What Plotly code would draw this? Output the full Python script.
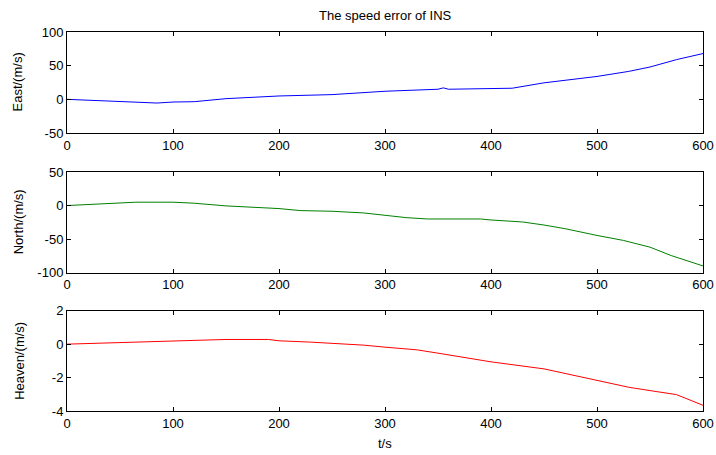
import plotly.graph_objects as go
from plotly.subplots import make_subplots

# Time samples (s)
t_east = [0, 25, 50, 70, 85, 100, 120, 150, 175, 200, 250, 300, 350, 355, 360, 400, 420, 450, 500, 530, 550, 575, 600]
east = [0, -1.5, -3.5, -4, -5.5, -4, -3.5, 1, 3, 5, 7, 12, 15, 17, 15, 16, 16.5, 24.5, 34, 41.5, 48, 59, 68]

t_north = [0, 20, 50, 65, 100, 120, 150, 200, 220, 250, 280, 300, 320, 340, 390, 400, 430, 450, 470, 500, 525, 550, 570, 600]
north = [0, 1.5, 3.5, 5, 5, 3.5, -0.5, -4.5, -7.5, -8.5, -11, -14.5, -18, -20, -20, -21.5, -24.5, -29, -34.5, -44.5, -52, -62, -74.5, -90]

t_heaven = [0, 40, 70, 100, 125, 150, 190, 200, 230, 260, 280, 300, 330, 350, 400, 450, 500, 530, 550, 575, 600]
heaven = [0, 0.08, 0.14, 0.2, 0.26, 0.28, 0.28, 0.2, 0.12, 0.02, -0.06, -0.18, -0.34, -0.54, -1.06, -1.48, -2.14, -2.58, -2.78, -3.02, -3.66]

x_ticks = [0, 100, 200, 300, 400, 500, 600]
east_ticks = [-50, 0, 50, 100]
north_ticks = [-100, -50, 0, 50]
heaven_ticks = [-4, -2, 0, 2]

FONT = "Liberation Sans, Arial, sans-serif"

fig = make_subplots(rows=3, cols=1)
fig.add_trace(go.Scatter(x=t_east, y=east, mode="lines", line=dict(color="#0000ff", width=1)), row=1, col=1)
fig.add_trace(go.Scatter(x=t_north, y=north, mode="lines", line=dict(color="#008000", width=1)), row=2, col=1)
fig.add_trace(go.Scatter(x=t_heaven, y=heaven, mode="lines", line=dict(color="#ff0000", width=1)), row=3, col=1)

doms = [[0.7335, 1.0], [0.365, 0.6306], [0.0, 0.2646]]
yranges = [[-50, 100], [-100, 50], [-4, 2]]
yticks = [east_ticks, north_ticks, heaven_ticks]
axis_common = dict(showline=True, linecolor="black", linewidth=1, mirror="ticks",
                   ticks="inside", ticklen=4, tickcolor="black", showgrid=False,
                   zeroline=False, automargin=False,
                   tickfont=dict(family=FONT, size=13, color="black"))
for i in range(3):
    xa = "xaxis" if i == 0 else f"xaxis{i+1}"
    ya = "yaxis" if i == 0 else f"yaxis{i+1}"
    fig.layout[xa].update(range=[0, 600], tickvals=x_ticks,
                          ticktext=[str(v) for v in x_ticks], **axis_common)
    fig.layout[ya].update(domain=doms[i], range=yranges[i], tickvals=yticks[i],
                          ticktext=[str(v) for v in yticks[i]], **axis_common)

ylabels = ["East/(m/s)", "North/(m/s)", "Heaven/(m/s)"]
shifts = [-49, -49, -47]
for i in range(3):
    fig.add_annotation(text=ylabels[i], xref="paper", yref="paper", x=0,
                       y=(doms[i][0] + doms[i][1]) / 2, xanchor="center", yanchor="middle",
                       xshift=shifts[i], textangle=-90, showarrow=False,
                       font=dict(family=FONT, size=13, color="black"))

fig.add_annotation(text="The speed error of INS", xref="paper", yref="paper", x=0.5, y=1,
                   yshift=17, xanchor="center", yanchor="middle", showarrow=False,
                   font=dict(family=FONT, size=13, color="black"))
fig.add_annotation(text="t/s", xref="paper", yref="paper", x=0.5, y=0,
                   yshift=-32, xanchor="center", yanchor="middle", showarrow=False,
                   font=dict(family=FONT, size=13, color="black"))

fig.update_layout(width=716, height=455, showlegend=False,
                  paper_bgcolor="white", plot_bgcolor="white",
                  margin=dict(l=67, r=13, t=32, b=44, autoexpand=False),
                  font=dict(family=FONT, size=13, color="black"))

fig.write_html("out.html", config={"displayModeBar": False},
               post_script="document.body.style.margin='0';document.body.style.overflow='hidden';")
